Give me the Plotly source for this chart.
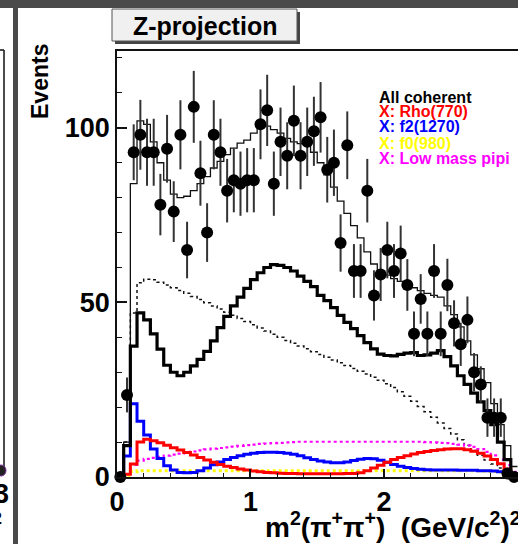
import plotly.graph_objects as go

W, H = 518, 544

# ---------------- data ----------------
n_bins = 60
x_lo, x_hi = 0.0, 3.0

data_counts = [0, 23.5, 93, 98, 93, 93, 78, 94, 76, 98,
               65, 106, 87, 70, 98, 93, 82, 85, 84, 85,
               85, 101, 105, 84, 96, 92, 102, 92, 96, 99,
               103, 88, 90, 67, 95, 59, 59, 82, 52, 58,
               65, 59, 64, 55, 41, 51, 41, 59, 41, 55,
               44, 38, 45, 30, 26.5, 17, 17, 17, 1, 0]
data_errors = [1.0, 5.0, 8.0, 10.0, 9.6, 9.6, 8.8, 9.7, 8.7, 9.9,
               8.1, 10.3, 9.3, 8.4, 9.9, 9.6, 9.1, 9.2, 9.2, 9.2,
               9.2, 10.0, 10.2, 9.2, 9.8, 9.6, 10.1, 9.6, 9.8, 9.9,
               10.1, 9.4, 9.5, 8.2, 9.7, 7.7, 7.7, 9.1, 7.2, 7.6,
               8.1, 7.7, 8.0, 7.4, 6.4, 7.1, 6.4, 7.7, 6.4, 7.5,
               6.6, 6.2, 6.7, 5.5, 5.2, 5.5, 5.5, 5.5, 1.0, 1.0]

all_coherent = [0, 10, 84, 102, 101, 96, 90, 85, 81, 80,
                80.4, 82, 84, 86, 88.5, 90.4, 92.3, 94.2, 95.6, 96.5,
                98.5, 101, 100.5, 99.5, 98.5, 97, 96, 95.5, 95, 93,
                90, 86.5, 83, 79, 75.5, 72, 68.5, 64.5, 61, 59,
                57.8, 56.8, 56, 55, 54.2, 53.4, 52.6, 52, 51.5, 49,
                46.5, 43, 39, 35, 31, 27, 21, 15, 9, 3]
thick_component = [0, 9, 37.5, 47, 45, 41, 36.6, 32, 30, 29,
                   30, 31.8, 33.7, 36, 39, 42.8, 46, 49, 51.5, 54,
                   56.5, 58.5, 60, 60.8, 60.6, 60, 59, 57.5, 56, 54.5,
                   52, 50.5, 48.5, 46.3, 44.3, 42.5, 40.5, 38.5, 36.7, 35.2,
                   34.8, 34.7, 35.1, 35.5, 35.6, 34.8, 35, 35.5, 36.2, 34.5,
                   31.8, 29, 26.5, 24, 21.5, 19, 15, 10, 5, 1]
dotted_component = [0, 10, 47, 55.6, 56.6, 56.5, 55.8, 55, 54.2, 53.4,
                    52.6, 51.7, 50.8, 49.9, 49, 48.1, 47.2, 46.3, 45.4, 44.5,
                    43.6, 42.7, 41.8, 40.9, 40, 39.1, 38.3, 37.5, 36.7, 35.9,
                    35.1, 34.3, 33.5, 32.7, 31.9, 31.1, 30.3, 29.5, 28.6, 27.7,
                    26.7, 25.6, 24.4, 23.1, 21.7, 20.2, 18.7, 17.1, 15.5, 13.9,
                    12.3, 10.7, 9.1, 7.6, 6.2, 4.9, 3.7, 2.6, 1.6, 0.6]
rho770 = [0, 0.8, 3.7, 10, 10.8, 10.4, 9.8, 9.1, 8.4, 7.7,
          7.0, 6.3, 5.6, 4.9, 4.2, 3.6, 3.1, 2.7, 2.3, 2.0,
          1.7, 1.5, 1.3, 1.2, 1.1, 1.0, 1.0, 0.9, 0.9, 0.9,
          0.9, 0.9, 0.9, 0.9, 1.0, 1.0, 1.2, 1.8, 2.6, 3.4,
          4.2, 5.0, 5.6, 6.1, 6.6, 7.0, 7.3, 7.6, 7.8, 8.0,
          8.1, 8.1, 7.8, 7.4, 6.8, 6.0, 5.0, 3.8, 2.3, 0.9]
f2_1270 = [0, 6, 21, 16, 12, 8, 5.3, 3.2, 2.0, 1.3,
           1.2, 1.3, 1.8, 2.6, 3.5, 4.3, 5.0, 5.6, 6.1, 6.5,
           6.8, 7.0, 7.1, 7.1, 7.0, 6.8, 6.5, 6.1, 5.5, 5.0,
           4.6, 4.3, 4.1, 4.1, 4.3, 4.7, 5.1, 5.3, 5.2, 4.8,
           4.2, 3.6, 3.1, 2.7, 2.4, 2.2, 2.1, 2.0, 2.0, 2.0,
           2.0, 1.9, 1.9, 1.9, 1.8, 1.8, 1.7, 1.5, 1.0, 0.4]
f0_980 = [0, 0.5, 1.5, 1.8, 1.8, 1.8, 1.8, 1.8, 1.8, 1.8,
          1.8, 1.8, 1.8, 1.8, 1.8, 1.8, 1.8, 1.8, 1.8, 1.8,
          1.8, 1.8, 1.8, 1.8, 1.8, 1.8, 1.8, 1.8, 1.8, 1.8,
          1.8, 1.8, 1.8, 1.8, 1.8, 1.8, 1.8, 1.8, 1.8, 1.8,
          1.8, 1.8, 1.8, 1.8, 1.8, 1.8, 1.8, 1.8, 1.8, 1.8,
          1.8, 1.8, 1.8, 1.8, 1.8, 1.7, 1.6, 1.4, 1.0, 0.5]
low_mass_pipi = [0, 0.8, 3.5, 4.7, 5.2, 5.5, 5.8, 6.1, 6.4, 6.7,
                 7.0, 7.3, 7.6, 7.9, 8.1, 8.3, 8.5, 8.7, 8.9, 9.1,
                 9.3, 9.5, 9.6, 9.7, 9.8, 9.9, 10.0, 10.1, 10.1, 10.1,
                 10.1, 10.1, 10.1, 10.1, 10.1, 10.1, 10.1, 10.1, 10.1, 10.1,
                 10.1, 10.1, 10.1, 10.1, 10.1, 10.1, 10.0, 9.9, 9.8, 9.7,
                 9.5, 9.3, 9.0, 8.6, 8.0, 7.2, 6.2, 5.0, 3.4, 1.5]

legend_labels = ["All coherent", "X: Rho(770)", "X: f2(1270)", "X: f0(980)", "X: Low mass pipi"]
legend_colors = ["#000000", "#ff0000", "#0000ff", "#ffff00", "#ff00ff"]
x_ticks = [0, 1, 2, 3]

# ---------------- helpers ----------------
bw = (x_hi - x_lo) / n_bins
edges = [x_lo + i * bw for i in range(n_bins + 1)]
centers = [x_lo + (i + 0.5) * bw for i in range(n_bins)]


def px(x):
    return x / W


def py(y):
    return 1 - y / H


def step_trace(vals, color, width, dash="solid"):
    return go.Scatter(x=edges, y=list(vals) + [vals[-1]], mode="lines",
                      line=dict(color=color, width=width, dash=dash, shape="hv"),
                      hoverinfo="skip", showlegend=False)


fig = go.Figure()
fig.add_trace(step_trace(all_coherent, "#111111", 1.3))
fig.add_trace(step_trace(dotted_component, "#111111", 1.5, "dot"))
fig.add_trace(step_trace(low_mass_pipi, "#ff00ff", 2.2, "dot"))
fig.add_trace(step_trace(f0_980, "#ffff00", 3, "dot"))
fig.add_trace(step_trace(f2_1270, "#0000ff", 3))
fig.add_trace(step_trace(rho770, "#ff0000", 3))
fig.add_trace(step_trace(thick_component, "#000000", 3.2))
fig.add_trace(go.Scatter(x=centers, y=data_counts, mode="markers",
                         marker=dict(color="black", size=12),
                         error_y=dict(type="data", array=data_errors, visible=True,
                                      thickness=2, width=0, color="#333333"),
                         cliponaxis=False, showlegend=False, hoverinfo="skip"))

font_fam = "Liberation Sans, Arial, sans-serif"

fig.update_layout(
    width=W, height=H, template="none",
    margin=dict(l=0, r=0, t=0, b=0),
    paper_bgcolor="white", plot_bgcolor="white",
    showlegend=False,
    xaxis=dict(domain=[px(117), 1], range=[0, 3.004], showline=True, linecolor="#111",
               linewidth=1.5, mirror=True, ticks="inside", ticklen=8, tickwidth=1.5,
               tickcolor="#111", tickmode="array", tickvals=x_ticks,
               ticktext=[str(t) for t in x_ticks],
               tickfont=dict(family=font_fam, size=27, color="black", weight="bold"),
               minor=dict(ticks="inside", ticklen=4, dtick=0.2, tick0=0, tickcolor="#111", tickwidth=1),
               showgrid=False, zeroline=False, automargin=False),
    yaxis=dict(domain=[py(477), py(51)], range=[0, 122], showline=True, linecolor="#111",
               linewidth=1.5, mirror=False, ticks="inside", ticklen=10, tickwidth=1.5,
               tickcolor="#111", tickmode="linear", tick0=0, dtick=50,
               tickfont=dict(family=font_fam, size=27, color="black", weight="bold"),
               minor=dict(ticks="inside", ticklen=5, dtick=10, tick0=0, tickcolor="#111", tickwidth=1),
               showgrid=False, zeroline=False, automargin=False),
)

shapes = []
# neighbouring pad remnants and canvas borders
shapes.append(dict(type="rect", xref="paper", yref="paper", x0=px(0), x1=px(W), y0=py(8), y1=py(0),
                   fillcolor="#4a4a4a", line=dict(width=0), layer="above"))
shapes.append(dict(type="rect", xref="paper", yref="paper", x0=px(13), x1=px(18), y0=py(H), y1=py(0),
                   fillcolor="#4a4a4a", line=dict(width=0), layer="above"))
shapes.append(dict(type="line", xref="paper", yref="paper", x0=px(0), x1=px(4), y0=py(50), y1=py(50),
                   line=dict(color="#111", width=1.5)))
shapes.append(dict(type="line", xref="paper", yref="paper", x0=px(4), x1=px(4), y0=py(50), y1=py(470),
                   line=dict(color="#111", width=1.5)))
shapes.append(dict(type="circle", xref="paper", yref="paper", x0=px(-4), x1=px(6), y0=py(476), y1=py(465),
                   fillcolor="#222", line=dict(color="#8030a0", width=1)))
# title box with shadow
shapes.append(dict(type="rect", xref="paper", yref="paper", x0=px(115), x1=px(300), y0=py(44), y1=py(12),
                   fillcolor="#444", line=dict(width=0)))
shapes.append(dict(type="rect", xref="paper", yref="paper", x0=px(112), x1=px(297), y0=py(41), y1=py(9),
                   fillcolor="#f0f0f0", line=dict(color="#555", width=1)))
fig.update_layout(shapes=shapes)

ann = []
ann.append(dict(text="<b>Z-projection</b>", x=px(205), y=py(26), xref="paper", yref="paper",
                showarrow=False, xanchor="center", yanchor="middle",
                font=dict(family=font_fam, size=25, color="black")))
ann.append(dict(text="<b>Events</b>", x=px(40), y=py(82), xref="paper", yref="paper",
                showarrow=False, textangle=-90, xanchor="center", yanchor="middle",
                font=dict(family=font_fam, size=23, color="black")))
ann.append(dict(text="<b>m<sup>2</sup>(π<sup>+</sup>π<sup>+</sup>)  (GeV/c<sup>2</sup>)<sup>2</sup></b>",
                x=px(523), y=py(525), xref="paper", yref="paper",
                showarrow=False, xanchor="right", yanchor="middle",
                font=dict(family=font_fam, size=28, color="black")))
leg_y = [97, 112, 127, 143, 159]
for lab, col, yy in zip(legend_labels, legend_colors, leg_y):
    ann.append(dict(text="<b>" + lab + "</b>", x=px(377), y=py(yy), xref="paper", yref="paper",
                    showarrow=False, xanchor="left", yanchor="middle",
                    font=dict(family=font_fam, size=16, color=col)))
ann.append(dict(text="<b>3</b>", x=px(11), y=py(494), xref="paper", yref="paper",
                showarrow=False, xanchor="right", yanchor="middle",
                font=dict(family=font_fam, size=27, color="black")))
ann.append(dict(text="<b>2</b>", x=px(4), y=py(518), xref="paper", yref="paper",
                showarrow=False, xanchor="right", yanchor="middle",
                font=dict(family=font_fam, size=16, color="black")))
fig.update_layout(annotations=ann)

fig.write_html("out.html")
